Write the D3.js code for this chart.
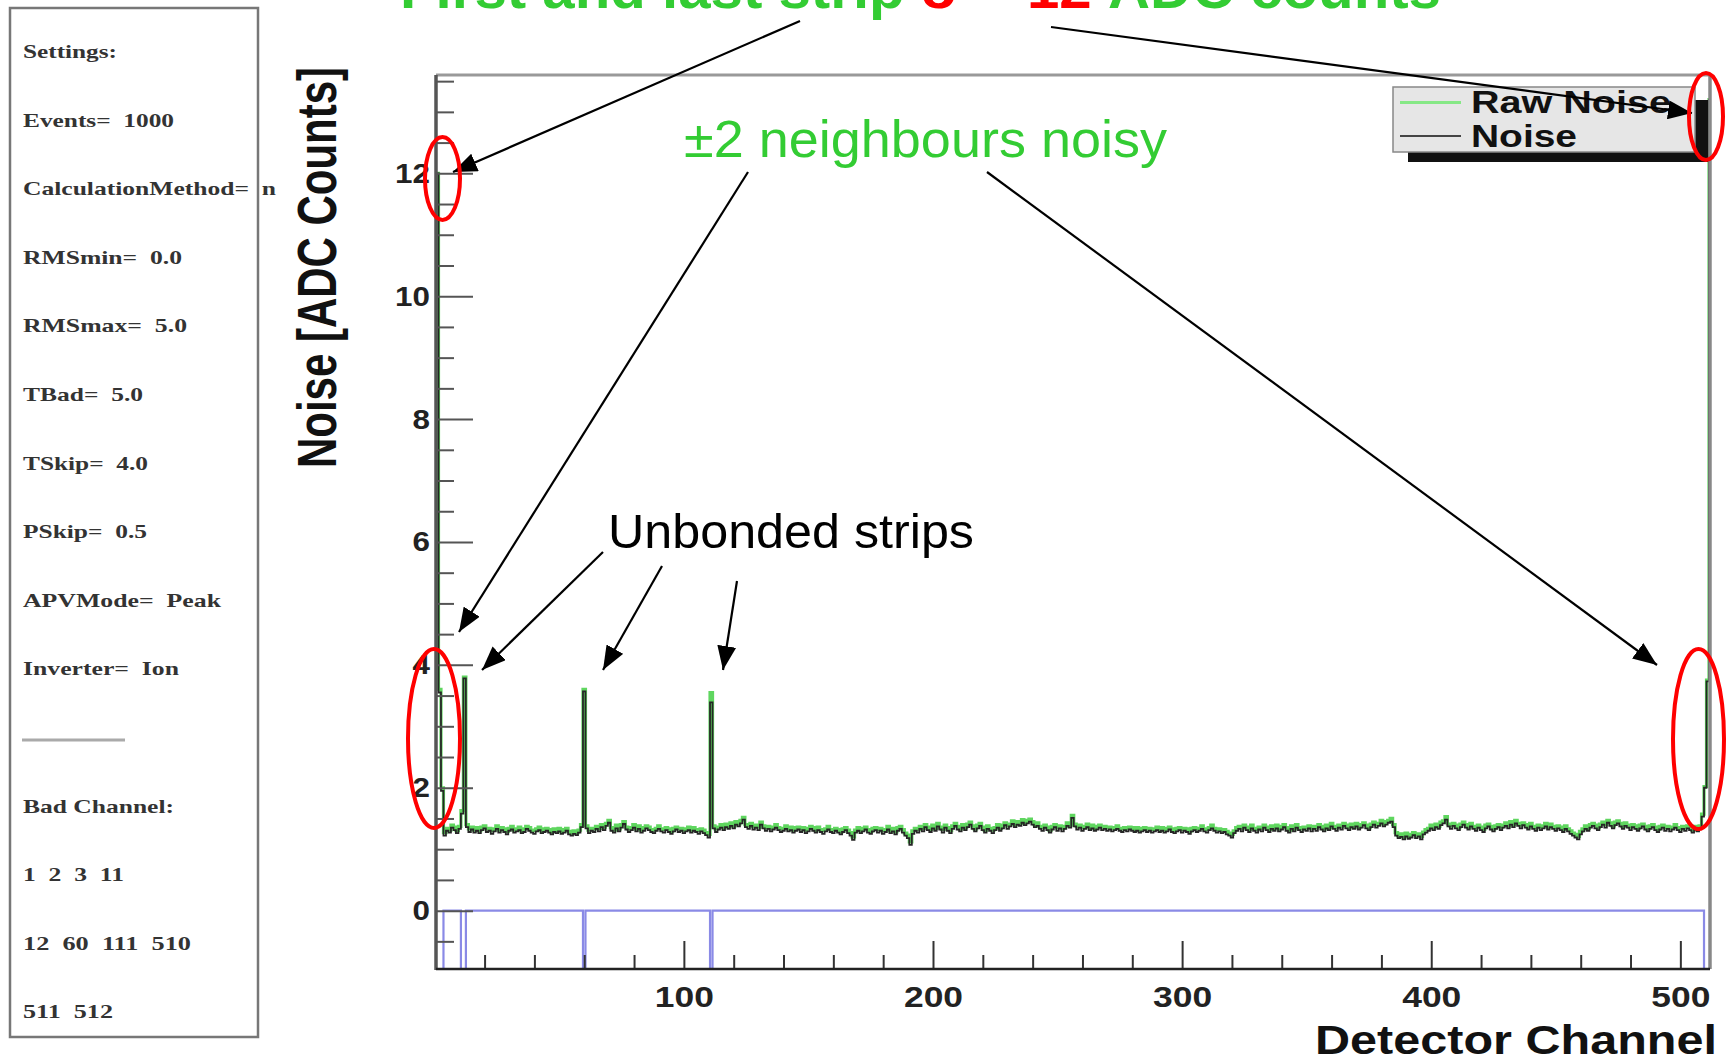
<!DOCTYPE html>
<html>
<head>
<meta charset="utf-8">
<script src="https://cdn.jsdelivr.net/npm/d3@7"></script>
<style>
  body { margin: 0; background: #fff; }
  svg { display: block; }
</style>
</head>
<body>
<div id="chart"></div>
<script>
const chartWidth = 1731;
const chartHeight = 1061;

// noise per channel (1..512)
const noise = [
  12.00, 3.55, 1.95, 1.22, 1.30, 1.27, 1.35, 1.31, 1.26, 1.33, 1.58, 3.78, 1.36, 1.28, 1.32, 1.27,
  1.30, 1.26, 1.31, 1.34, 1.28, 1.30, 1.25, 1.29, 1.33, 1.27, 1.31, 1.28, 1.24, 1.30, 1.32, 1.27,
  1.29, 1.31, 1.26, 1.28, 1.33, 1.30, 1.27, 1.25, 1.29, 1.31, 1.26, 1.28, 1.30, 1.27, 1.24, 1.28,
  1.26, 1.29, 1.25, 1.27, 1.30, 1.24, 1.22, 1.25, 1.23, 1.27, 1.36, 3.57, 1.34, 1.26, 1.30, 1.28,
  1.33, 1.29, 1.36, 1.31, 1.38, 1.43, 1.30, 1.27, 1.34, 1.29, 1.35, 1.41, 1.32, 1.28, 1.31, 1.35,
  1.29, 1.33, 1.27, 1.30, 1.34, 1.31, 1.28, 1.26, 1.30, 1.33, 1.29, 1.27, 1.31, 1.28, 1.25, 1.29,
  1.32, 1.28, 1.30, 1.26, 1.29, 1.31, 1.27, 1.30, 1.28, 1.25, 1.29, 1.26, 1.23, 1.19, 3.39, 1.34,
  1.28, 1.32, 1.35, 1.31, 1.36, 1.33, 1.38, 1.34, 1.40, 1.37, 1.42, 1.48, 1.36, 1.33, 1.38, 1.32,
  1.35, 1.31, 1.40, 1.34, 1.30, 1.33, 1.29, 1.32, 1.35, 1.31, 1.28, 1.30, 1.33, 1.29, 1.31, 1.27,
  1.30, 1.32, 1.28, 1.31, 1.26, 1.29, 1.33, 1.30, 1.27, 1.31, 1.28, 1.25, 1.29, 1.32, 1.28, 1.26,
  1.30, 1.27, 1.24, 1.28, 1.31, 1.26, 1.22, 1.15, 1.27, 1.30, 1.26, 1.29, 1.32, 1.27, 1.25, 1.29,
  1.31, 1.27, 1.30, 1.25, 1.28, 1.32, 1.26, 1.29, 1.24, 1.30, 1.33, 1.27, 1.22, 1.18, 1.07, 1.25,
  1.30, 1.27, 1.33, 1.29, 1.36, 1.31, 1.28, 1.34, 1.30, 1.37, 1.32, 1.27, 1.35, 1.30, 1.26, 1.33,
  1.38, 1.32, 1.29, 1.35, 1.31, 1.36, 1.40, 1.33, 1.29, 1.34, 1.38, 1.31, 1.27, 1.33, 1.30, 1.26,
  1.31, 1.35, 1.30, 1.34, 1.39, 1.33, 1.37, 1.41, 1.36, 1.40, 1.38, 1.43, 1.39, 1.42, 1.45, 1.40,
  1.36, 1.38, 1.33, 1.30, 1.35, 1.31, 1.27, 1.32, 1.36, 1.30, 1.34, 1.29, 1.33, 1.38, 1.35, 1.51,
  1.37, 1.32, 1.35, 1.30, 1.33, 1.36, 1.31, 1.34, 1.30, 1.32, 1.35, 1.31, 1.33, 1.30, 1.32, 1.29,
  1.31, 1.33, 1.30, 1.28, 1.31, 1.29, 1.32, 1.30, 1.28, 1.30, 1.27, 1.29, 1.31, 1.28, 1.30, 1.27,
  1.29, 1.31, 1.28, 1.30, 1.27, 1.29, 1.32, 1.28, 1.26, 1.29, 1.31, 1.27, 1.30, 1.28, 1.25, 1.29,
  1.31, 1.28, 1.30, 1.33, 1.29, 1.27, 1.31, 1.34, 1.30, 1.27, 1.29, 1.26, 1.28, 1.24, 1.22, 1.19,
  1.26, 1.30, 1.33, 1.29, 1.35, 1.31, 1.28, 1.34, 1.30, 1.27, 1.32, 1.29, 1.35, 1.31, 1.28, 1.33,
  1.30, 1.34, 1.29, 1.32, 1.36, 1.30, 1.27, 1.33, 1.29, 1.35, 1.31, 1.28, 1.32, 1.30, 1.34, 1.29,
  1.33, 1.30, 1.36, 1.32, 1.29, 1.34, 1.31, 1.37, 1.33, 1.30, 1.35, 1.32, 1.38, 1.34, 1.31, 1.36,
  1.33, 1.37, 1.32, 1.35, 1.39, 1.34, 1.31, 1.36, 1.40, 1.35, 1.38, 1.42, 1.37, 1.40, 1.43, 1.45,
  1.36, 1.22, 1.18, 1.20, 1.16, 1.21, 1.17, 1.19, 1.23, 1.18, 1.21, 1.16, 1.24, 1.27, 1.30, 1.34,
  1.31, 1.36, 1.33, 1.39, 1.42, 1.48, 1.37, 1.33, 1.38, 1.34, 1.31, 1.36, 1.40, 1.35, 1.32, 1.37,
  1.33, 1.30, 1.35, 1.31, 1.28, 1.34, 1.37, 1.32, 1.29, 1.33, 1.36, 1.31, 1.35, 1.38, 1.34, 1.40,
  1.36, 1.42, 1.38, 1.34, 1.39, 1.35, 1.32, 1.37, 1.33, 1.30, 1.35, 1.31, 1.34, 1.37, 1.32, 1.36,
  1.33, 1.30, 1.34, 1.31, 1.28, 1.33, 1.29, 1.25, 1.22, 1.19, 1.16, 1.24, 1.29, 1.33, 1.30, 1.35,
  1.38, 1.34, 1.31, 1.36, 1.40, 1.35, 1.43, 1.38, 1.34, 1.39, 1.42, 1.37, 1.33, 1.38, 1.35, 1.31,
  1.36, 1.33, 1.30, 1.34, 1.37, 1.32, 1.29, 1.33, 1.36, 1.31, 1.28, 1.32, 1.35, 1.30, 1.33, 1.29,
  1.32, 1.35, 1.31, 1.28, 1.33, 1.30, 1.34, 1.31, 1.27, 1.32, 1.29, 1.33, 1.53, 2.00, 3.73, 13.20
];

// raw noise per channel
const rawNoise = [
  12.00, 3.60, 2.00, 1.27, 1.34, 1.31, 1.39, 1.36, 1.30, 1.37, 1.63, 3.80, 1.40, 1.33, 1.36, 1.31,
  1.35, 1.30, 1.36, 1.38, 1.33, 1.34, 1.30, 1.33, 1.38, 1.31, 1.35, 1.33, 1.29, 1.34, 1.37, 1.31,
  1.33, 1.36, 1.30, 1.33, 1.37, 1.35, 1.31, 1.30, 1.33, 1.36, 1.30, 1.33, 1.34, 1.32, 1.28, 1.33,
  1.30, 1.34, 1.29, 1.32, 1.34, 1.29, 1.26, 1.30, 1.27, 1.31, 1.40, 3.60, 1.38, 1.31, 1.34, 1.33,
  1.37, 1.34, 1.40, 1.36, 1.42, 1.47, 1.35, 1.31, 1.39, 1.33, 1.40, 1.45, 1.36, 1.33, 1.35, 1.40,
  1.33, 1.38, 1.31, 1.35, 1.38, 1.36, 1.32, 1.31, 1.34, 1.38, 1.33, 1.32, 1.35, 1.33, 1.29, 1.34,
  1.36, 1.33, 1.34, 1.31, 1.33, 1.36, 1.31, 1.35, 1.32, 1.30, 1.33, 1.31, 1.27, 1.24, 3.55, 1.38,
  1.33, 1.36, 1.40, 1.35, 1.41, 1.37, 1.43, 1.38, 1.45, 1.41, 1.47, 1.52, 1.40, 1.38, 1.42, 1.37,
  1.39, 1.36, 1.44, 1.38, 1.35, 1.37, 1.34, 1.36, 1.40, 1.35, 1.33, 1.34, 1.38, 1.33, 1.36, 1.31,
  1.35, 1.36, 1.33, 1.35, 1.31, 1.34, 1.37, 1.35, 1.31, 1.36, 1.32, 1.30, 1.33, 1.37, 1.32, 1.31,
  1.34, 1.32, 1.28, 1.33, 1.35, 1.31, 1.27, 1.20, 1.31, 1.35, 1.30, 1.34, 1.36, 1.32, 1.29, 1.34,
  1.35, 1.32, 1.34, 1.30, 1.32, 1.37, 1.30, 1.34, 1.28, 1.35, 1.37, 1.32, 1.26, 1.23, 1.12, 1.30,
  1.34, 1.32, 1.37, 1.34, 1.40, 1.36, 1.32, 1.39, 1.34, 1.42, 1.36, 1.32, 1.39, 1.35, 1.30, 1.38,
  1.42, 1.37, 1.33, 1.40, 1.35, 1.41, 1.44, 1.38, 1.33, 1.39, 1.42, 1.36, 1.31, 1.38, 1.34, 1.31,
  1.35, 1.40, 1.34, 1.39, 1.43, 1.38, 1.41, 1.46, 1.40, 1.45, 1.42, 1.48, 1.43, 1.47, 1.49, 1.45,
  1.40, 1.43, 1.37, 1.35, 1.39, 1.36, 1.31, 1.37, 1.40, 1.35, 1.38, 1.34, 1.37, 1.43, 1.39, 1.55,
  1.41, 1.37, 1.39, 1.35, 1.37, 1.41, 1.35, 1.39, 1.34, 1.37, 1.39, 1.36, 1.37, 1.35, 1.36, 1.34,
  1.35, 1.38, 1.34, 1.33, 1.35, 1.34, 1.36, 1.35, 1.32, 1.35, 1.31, 1.34, 1.35, 1.33, 1.34, 1.32,
  1.33, 1.36, 1.32, 1.35, 1.31, 1.34, 1.36, 1.33, 1.30, 1.34, 1.35, 1.32, 1.34, 1.33, 1.29, 1.34,
  1.35, 1.33, 1.34, 1.38, 1.33, 1.32, 1.35, 1.39, 1.34, 1.32, 1.33, 1.31, 1.32, 1.29, 1.26, 1.24,
  1.30, 1.35, 1.37, 1.34, 1.39, 1.36, 1.32, 1.39, 1.34, 1.32, 1.36, 1.34, 1.39, 1.36, 1.32, 1.38,
  1.34, 1.39, 1.33, 1.37, 1.40, 1.35, 1.31, 1.38, 1.33, 1.40, 1.35, 1.33, 1.36, 1.35, 1.38, 1.34,
  1.37, 1.35, 1.40, 1.37, 1.33, 1.39, 1.35, 1.42, 1.37, 1.35, 1.39, 1.37, 1.42, 1.39, 1.35, 1.41,
  1.37, 1.42, 1.36, 1.40, 1.43, 1.39, 1.35, 1.41, 1.44, 1.40, 1.42, 1.47, 1.41, 1.45, 1.47, 1.50,
  1.40, 1.27, 1.22, 1.25, 1.20, 1.26, 1.21, 1.24, 1.27, 1.23, 1.25, 1.21, 1.28, 1.32, 1.34, 1.39,
  1.35, 1.41, 1.37, 1.44, 1.46, 1.53, 1.41, 1.38, 1.42, 1.39, 1.35, 1.41, 1.44, 1.40, 1.36, 1.42,
  1.37, 1.35, 1.39, 1.36, 1.32, 1.39, 1.41, 1.37, 1.33, 1.38, 1.40, 1.36, 1.39, 1.43, 1.38, 1.45,
  1.40, 1.47, 1.42, 1.39, 1.43, 1.40, 1.36, 1.42, 1.37, 1.35, 1.39, 1.36, 1.38, 1.42, 1.36, 1.41,
  1.37, 1.35, 1.38, 1.36, 1.32, 1.38, 1.33, 1.30, 1.26, 1.24, 1.21, 1.29, 1.33, 1.38, 1.34, 1.40,
  1.42, 1.39, 1.35, 1.41, 1.44, 1.40, 1.47, 1.43, 1.38, 1.44, 1.46, 1.42, 1.37, 1.43, 1.39, 1.36,
  1.40, 1.38, 1.34, 1.39, 1.41, 1.37, 1.33, 1.38, 1.40, 1.36, 1.32, 1.37, 1.39, 1.35, 1.37, 1.34,
  1.36, 1.40, 1.35, 1.33, 1.37, 1.35, 1.38, 1.36, 1.31, 1.37, 1.33, 1.38, 1.57, 2.02, 3.75, 13.20
];

const badChannels = [1, 2, 3, 11, 12, 60, 111, 510, 511, 512];

const xMajorTicks = [100, 200, 300, 400, 500];
const yMajorTicks = [0, 2, 4, 6, 8, 10, 12];

const seriesNames = ['Raw Noise', 'Noise'];

const settingsLines = [
  'Settings:', 'Events=  1000', 'CalculationMethod=  n', 'RMSmin=  0.0', 'RMSmax=  5.0',
  'TBad=  5.0', 'TSkip=  4.0', 'PSkip=  0.5', 'APVMode=  Peak', 'Inverter=  Ion',
  null, 'Bad Channel:', '1  2  3  11', '12  60  111  510', '511  512'
];
// drawn widths of the settings lines (the source text is stretched sideways)
const settingsWidths = [94, 151, 253, 159, 164, 120, 125, 124, 198, 156, 0, 151, 101, 168, 90];

const channels = d3.range(1, noise.length + 1);
const flags = channels.map(c => badChannels.includes(c) ? -5 : 0);

const plot = {left: 436, right: 1710, top: 75, bottom: 969};
const sans = "'Liberation Sans', Arial, sans-serif";
const serif = "'Liberation Serif', 'Times New Roman', serif";

const svg = d3.select('#chart').append('svg')
  .attr('width', chartWidth)
  .attr('height', chartHeight)
  .attr('font-family', sans);

let stretch = (sel, k) => sel.each(function () {
  let w = this.getComputedTextLength();
  d3.select(this).attr('textLength', w * k).attr('lengthAdjust', 'spacingAndGlyphs');
});

// ---- settings panel
svg.append('rect')
  .attr('x', 10).attr('y', 8).attr('width', 248).attr('height', 1029)
  .attr('fill', 'none').attr('stroke', '#777').attr('stroke-width', 2.5);

settingsLines.forEach((line, i) => {
  let yy = 58 + i * 68.6;
  if (line === null) {
    svg.append('line')
      .attr('x1', 22).attr('x2', 125).attr('y1', yy - 4).attr('y2', yy - 4)
      .attr('stroke', '#aaa').attr('stroke-width', 3);
    return;
  }
  svg.append('text')
    .attr('x', 23).attr('y', yy)
    .attr('font-family', serif).attr('font-weight', 'bold').attr('font-size', 19)
    .attr('fill', '#333')
    .attr('xml:space', 'preserve').style('white-space', 'pre')
    .attr('textLength', settingsWidths[i]).attr('lengthAdjust', 'spacingAndGlyphs')
    .text(line);
});

// ---- scales
const x = d3.scaleLinear().domain([0.5, 511.9]).range([plot.left, plot.right]);
const y = d3.scaleLinear().domain([-0.95, 13.6]).range([plot.bottom, plot.top]);

svg.append('defs').append('clipPath').attr('id', 'plotclip')
  .append('rect')
  .attr('x', plot.left).attr('y', plot.top)
  .attr('width', plot.right - plot.left).attr('height', plot.bottom - plot.top);

// ---- histograms
let hist = values => d3.line()
  .curve(d3.curveStep)
  .x(d => x(d[0]))
  .y(d => y(d[1]))([[0.5, values[0]]].concat(channels.map((c, i) => [c, values[i]]), [[512.5, values[values.length - 1]]]));

let content = svg.append('g').attr('clip-path', 'url(#plotclip)');

content.append('path')
  .attr('d', hist(flags))
  .attr('fill', 'none').attr('stroke', '#8a8ae6').attr('stroke-width', 2.2);

content.append('path')
  .attr('d', hist(rawNoise))
  .attr('fill', 'none').attr('stroke', '#5fd65f').attr('stroke-width', 3.2);

content.append('path')
  .attr('d', hist(noise))
  .attr('fill', 'none').attr('stroke', '#262626').attr('stroke-width', 1.8);

// ---- axes
let yMinor = d3.range(-0.5, 13.6, 0.5).filter(v => !yMajorTicks.includes(v));
let xMinor = d3.range(20, 512, 20).filter(v => !xMajorTicks.includes(v));

let yMinorG = svg.append('g').attr('transform', `translate(${plot.left},0)`)
  .call(d3.axisLeft(y).tickValues(yMinor).tickSizeInner(-18).tickSizeOuter(0).tickFormat(''));
let yMajorG = svg.append('g').attr('transform', `translate(${plot.left},0)`)
  .call(d3.axisLeft(y).tickValues(yMajorTicks).tickSizeInner(-37).tickSizeOuter(0).tickPadding(6).tickFormat(d3.format('d')));
let xMinorG = svg.append('g').attr('transform', `translate(0,${plot.bottom})`)
  .call(d3.axisBottom(x).tickValues(xMinor).tickSizeInner(-14).tickSizeOuter(0).tickFormat(''));
let xMajorG = svg.append('g').attr('transform', `translate(0,${plot.bottom})`)
  .call(d3.axisBottom(x).tickValues(xMajorTicks).tickSizeInner(-28).tickSizeOuter(0).tickPadding(17).tickFormat(d3.format('d')));

[yMinorG, yMajorG, xMinorG, xMajorG].forEach(g => {
  g.select('.domain').remove();
  g.selectAll('.tick line').attr('stroke', '#333').attr('stroke-width', 2);
});
yMajorG.selectAll('.tick line').attr('stroke', '#555');
yMinorG.selectAll('.tick line').attr('stroke', '#555');

yMajorG.selectAll('.tick text')
  .attr('font-family', sans).attr('font-weight', 'bold').attr('font-size', 28).attr('fill', '#222');
xMajorG.selectAll('.tick text')
  .attr('font-family', sans).attr('font-weight', 'bold').attr('font-size', 30).attr('fill', '#222');
stretch(yMajorG.selectAll('.tick text'), 1.12);
stretch(xMajorG.selectAll('.tick text'), 1.18);

// frame
svg.append('line').attr('x1', plot.left).attr('x2', plot.right).attr('y1', plot.top).attr('y2', plot.top)
  .attr('stroke', '#999').attr('stroke-width', 3);
svg.append('line').attr('x1', plot.right).attr('x2', plot.right).attr('y1', plot.top).attr('y2', plot.bottom)
  .attr('stroke', '#888').attr('stroke-width', 3.5);
svg.append('line').attr('x1', plot.left).attr('x2', plot.left).attr('y1', plot.top).attr('y2', plot.bottom + 1)
  .attr('stroke', '#555').attr('stroke-width', 3.5);
svg.append('line').attr('x1', plot.left).attr('x2', plot.right).attr('y1', plot.bottom).attr('y2', plot.bottom)
  .attr('stroke', '#222').attr('stroke-width', 2.5);

// axis titles
svg.append('text')
  .attr('transform', 'translate(336,468) scale(1.3,1) rotate(-90)')
  .attr('font-weight', 'bold').attr('font-size', 42).attr('fill', '#111')
  .attr('textLength', 401).attr('lengthAdjust', 'spacingAndGlyphs')
  .text('Noise [ADC Counts]');

svg.append('text')
  .attr('x', 1717).attr('y', 1054).attr('text-anchor', 'end')
  .attr('font-weight', 'bold').attr('font-size', 40).attr('fill', '#111')
  .attr('textLength', 402).attr('lengthAdjust', 'spacingAndGlyphs')
  .text('Detector Channel');

// ---- legend
let legend = svg.append('g');
legend.append('rect').attr('x', 1408).attr('y', 100).attr('width', 300).attr('height', 62).attr('fill', '#111');
legend.append('rect').attr('x', 1393).attr('y', 87).attr('width', 302).attr('height', 65)
  .attr('fill', '#e6e6e6').attr('stroke', '#888').attr('stroke-width', 1.5);
let legendColors = ['#86e886', '#444'];
let legendWidths = [200, 106];
seriesNames.forEach((name, i) => {
  let yy = 102.5 + i * 33.5;
  legend.append('line').attr('x1', 1400).attr('x2', 1461).attr('y1', yy).attr('y2', yy)
    .attr('stroke', legendColors[i]).attr('stroke-width', i === 0 ? 3 : 2);
  legend.append('text')
    .attr('x', 1471).attr('y', yy + 10.5)
    .attr('font-weight', 'bold').attr('font-size', 31).attr('fill', '#111')
    .attr('textLength', legendWidths[i]).attr('lengthAdjust', 'spacingAndGlyphs')
    .text(name);
});

// ---- annotations
let title = svg.append('text')
  .attr('x', 400).attr('y', 8)
  .attr('font-weight', 'bold').attr('font-size', 56)
  .attr('textLength', 1041).attr('lengthAdjust', 'spacingAndGlyphs')
  .attr('xml:space', 'preserve').style('white-space', 'pre');
title.append('tspan').attr('fill', '#33cc33').text('First and last strip ');
title.append('tspan').attr('fill', '#ff0000').text('σ ~ 12');
title.append('tspan').attr('fill', '#33cc33').text(' ADC counts');

svg.append('text')
  .attr('x', 684).attr('y', 157)
  .attr('font-size', 52).attr('fill', '#33cc33')
  .attr('textLength', 483).attr('lengthAdjust', 'spacingAndGlyphs')
  .text('±2 neighbours noisy');

svg.append('text')
  .attr('x', 608).attr('y', 548)
  .attr('font-size', 48).attr('fill', '#000')
  .attr('textLength', 366).attr('lengthAdjust', 'spacingAndGlyphs')
  .text('Unbonded strips');

svg.select('defs').append('marker')
  .attr('id', 'head')
  .attr('viewBox', '0 0 10 10').attr('refX', 10).attr('refY', 5)
  .attr('markerWidth', 24).attr('markerHeight', 19)
  .attr('markerUnits', 'userSpaceOnUse').attr('preserveAspectRatio', 'none')
  .attr('orient', 'auto')
  .append('path').attr('d', 'M0,0 L10,5 L0,10 z').attr('fill', '#000');

const arrows = [
  [800, 21, 453, 172],
  [1051, 27, 1692, 113],
  [748, 172, 459, 632],
  [987, 172, 1657, 665],
  [603, 552, 482, 670],
  [662, 566, 603, 670],
  [737, 581, 723, 670]
];
svg.selectAll('line.arrow').data(arrows).enter().append('line')
  .classed('arrow', true)
  .attr('x1', d => d[0]).attr('y1', d => d[1])
  .attr('x2', d => d[2]).attr('y2', d => d[3])
  .attr('stroke', '#000').attr('stroke-width', 2.2)
  .attr('marker-end', 'url(#head)');

const rings = [
  [442.5, 178.5, 17.5, 41.5],
  [1706, 116.5, 17, 43.5],
  [434, 738.5, 26, 89.5],
  [1698.5, 739, 25.5, 90]
];
svg.selectAll('ellipse').data(rings).enter().append('ellipse')
  .attr('cx', d => d[0]).attr('cy', d => d[1])
  .attr('rx', d => d[2]).attr('ry', d => d[3])
  .attr('fill', 'none').attr('stroke', '#ff0000').attr('stroke-width', 4);
</script>
</body>
</html>
